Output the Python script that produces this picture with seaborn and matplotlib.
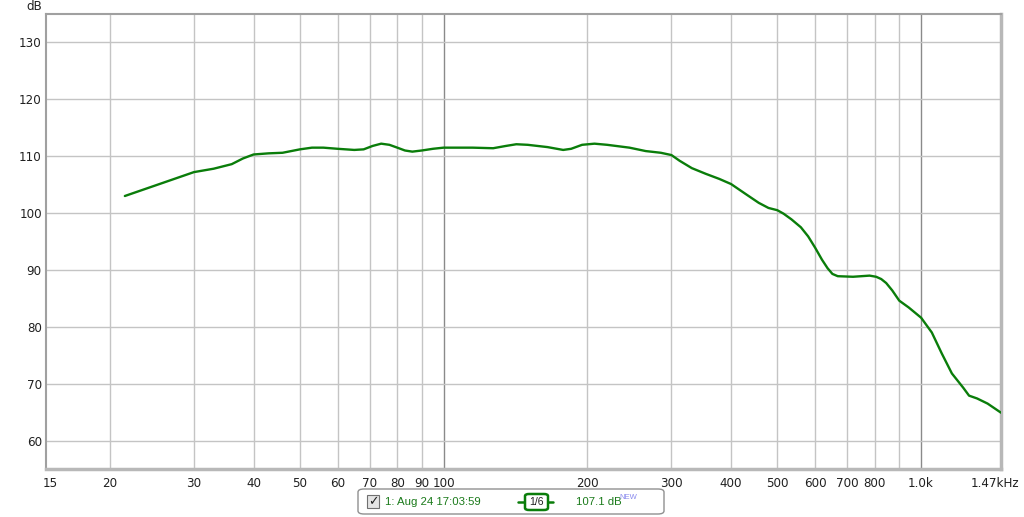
import matplotlib
matplotlib.use("Agg")
import matplotlib.pyplot as plt
import matplotlib.transforms as mtransforms
from matplotlib.patches import FancyBboxPatch, Rectangle
from matplotlib.lines import Line2D
import seaborn as sns

# frequency response (Hz, dB)
freq_hz = [21.5, 25, 30, 33, 36, 38, 40, 43, 46, 50, 53, 56, 60, 65, 68, 71,
           74, 77, 80, 83, 86, 90, 95, 100, 115, 127, 135, 142, 150, 165, 178,
           185, 195, 207, 220, 245, 265, 285, 300, 312, 331, 354, 378, 400,
           430, 457, 479, 500, 515, 535, 560, 580, 600, 620, 637, 652, 669,
           720, 780, 805, 825, 845, 870, 900, 942, 1000, 1053, 1105, 1160,
           1225, 1260, 1310, 1378, 1470]
spl_db = [103.0, 104.9, 107.2, 107.8, 108.6, 109.6, 110.3, 110.5, 110.6,
          111.2, 111.5, 111.5, 111.3, 111.1, 111.2, 111.8, 112.2, 112.0, 111.5,
          111.0, 110.8, 111.0, 111.3, 111.5, 111.5, 111.4, 111.8, 112.1, 112.0,
          111.6, 111.1, 111.3, 112.0, 112.2, 112.0, 111.5, 110.9, 110.6, 110.2,
          109.2, 107.9, 106.9, 106.0, 105.1, 103.3, 101.8, 100.9, 100.5, 99.9,
          98.9, 97.5, 95.9, 93.9, 91.8, 90.3, 89.3, 88.9, 88.8, 89.0, 88.8,
          88.4, 87.7, 86.4, 84.6, 83.4, 81.6, 79.0, 75.3, 71.8, 69.3, 67.9,
          67.4, 66.5, 64.9]

x_ticks = [15, 20, 30, 40, 50, 60, 70, 80, 90, 100, 200, 300, 400, 500, 600,
           700, 800, 1000, 1470]
x_tick_labels = ["15", "20", "30", "40", "50", "60", "70", "80", "90", "100",
                 "200", "300", "400", "500", "600", "700", "800", "1.0k", "1.47kHz"]
x_grid = [20, 30, 40, 50, 60, 70, 80, 90, 200, 300, 400, 500, 600, 700, 800, 900]
x_grid_major = [100, 1000]
y_ticks = [60, 70, 80, 90, 100, 110, 120, 130]

trace_name = "1: Aug 24 17:03:59"
trace_level = "107.1 dB"

green = "#0a7d0a"

sns.set_style("white")
plt.rcParams["font.family"] = ["DejaVu Sans"]

fig = plt.figure(figsize=(10.24, 5.17), dpi=100)
ax = fig.add_axes([46 / 1024, 48 / 517, 955 / 1024, 455 / 517])

ax.set_xscale("log")
ax.set_xlim(14.7, 1470)
ax.set_ylim(55, 135)

for f in x_grid:
    ax.axvline(f, color="#c4c4c4", lw=1.0, zorder=0)
for f in x_grid_major:
    ax.axvline(f, color="#8a8a8a", lw=1.0, zorder=0)
for v in y_ticks:
    ax.axhline(v, color="#c4c4c4", lw=1.0, zorder=0)

sns.lineplot(x=freq_hz, y=spl_db, ax=ax, color=green, lw=1.7, sort=False,
             estimator=None, zorder=3)

ax.set_xticks(x_ticks)
ax.set_xticklabels(x_tick_labels)
ax.minorticks_off()
ax.set_yticks(y_ticks)
ax.tick_params(axis="both", length=0, labelsize=8.6, colors="#202020")
ax.tick_params(axis="x", pad=6)
ax.tick_params(axis="y", pad=3)
ax.set_xlabel("")
ax.set_ylabel("")

# last frequency label sits a little left so it stays inside the window
last = ax.get_xticklabels()[-1]
last.set_transform(last.get_transform() +
                   mtransforms.ScaledTranslation(-0.06, 0, fig.dpi_scale_trans))

for side in ["top", "left"]:
    ax.spines[side].set_color("#a0a0a0")
    ax.spines[side].set_linewidth(1.5)
for side in ["bottom", "right"]:
    ax.spines[side].set_color("#b8b8b8")
    ax.spines[side].set_linewidth(2.5)

fig.text(34 / 1024, 1 - 6 / 517, "dB", fontsize=8.6, ha="center", va="center",
         color="#202020")

# trace legend strip at the bottom
legend_box = FancyBboxPatch((358 / 1024, 3 / 517), 306 / 1024, 25 / 517,
                            boxstyle="round,pad=0,rounding_size=0.006",
                            transform=fig.transFigure, facecolor="white",
                            edgecolor="#909090", lw=1.0)
fig.patches.append(legend_box)

check = Rectangle((367 / 1024, 9 / 517), 12 / 1024, 13 / 517,
                  transform=fig.transFigure, facecolor="#e4e4e4",
                  edgecolor="#707070", lw=0.8)
fig.patches.append(check)
fig.text(373 / 1024, 15.5 / 517, "\u2713", fontsize=9, ha="center",
         va="center", color="#202020", fontweight="bold")

fig.text(385 / 1024, 15 / 517, trace_name, fontsize=8.2, ha="left",
         va="center", color="#1a7a1a", family=["Liberation Sans"])

fig.lines.append(Line2D([518 / 1024, 553 / 1024], [15 / 517, 15 / 517],
                        transform=fig.transFigure, color=green, lw=1.8))
icon = FancyBboxPatch((525 / 1024, 7 / 517), 23 / 1024, 16 / 517,
                      boxstyle="round,pad=0,rounding_size=0.004",
                      transform=fig.transFigure, facecolor="white",
                      edgecolor=green, lw=1.8, zorder=5)
fig.patches.append(icon)
fig.text(536.5 / 1024, 15 / 517, "1/6", fontsize=7.5, ha="center",
         va="center", color="#202020", zorder=6, family=["Liberation Sans"])

fig.text(576 / 1024, 15 / 517, trace_level, fontsize=8.2, ha="left",
         va="center", color="#1a7a1a", family=["Liberation Sans"])
fig.text(619 / 1024, 19.5 / 517, "NEW", fontsize=5.5, ha="left",
         va="center", color="#8888ee", family=["Liberation Sans"])

fig.savefig("out.png", dpi=100, facecolor="white")
